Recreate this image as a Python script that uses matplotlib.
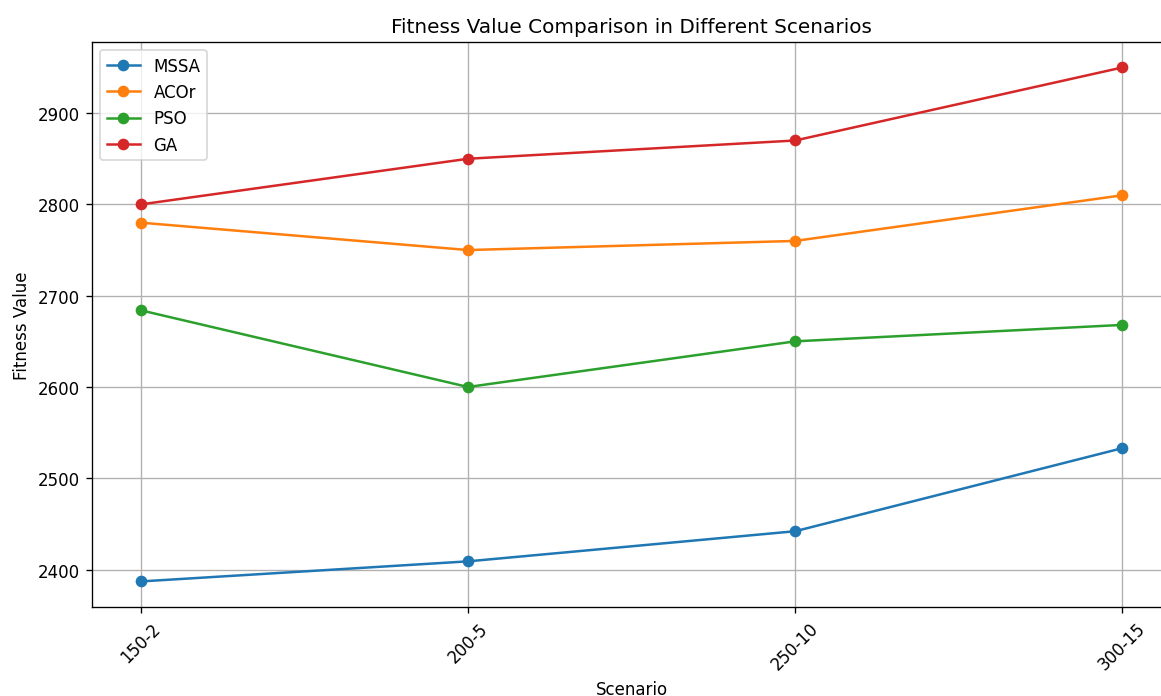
import matplotlib
matplotlib.use("Agg")
import matplotlib.pyplot as plt

# datos
scenarios = ["150-2", "200-5", "250-10", "300-15"]
mssa = [2387, 2409, 2442, 2533]
acor = [2780, 2750, 2760, 2810]
pso = [2684, 2600, 2650, 2668]
ga = [2800, 2850, 2870, 2950]

fig, ax = plt.subplots(figsize=(9.675, 5.808), dpi=120)
# el borde derecho del eje queda justo fuera de la imagen, como en el original
fig.subplots_adjust(left=0.079, right=1.009, top=0.9387, bottom=0.1275)

ax.plot(scenarios, mssa, marker="o", label="MSSA")
ax.plot(scenarios, acor, marker="o", label="ACOr")
ax.plot(scenarios, pso, marker="o", label="PSO")
ax.plot(scenarios, ga, marker="o", label="GA")

ax.set_title("Fitness Value Comparison in Different Scenarios")
ax.set_xlabel("Scenario")
ax.set_ylabel("Fitness Value")
ax.legend(loc="upper left")
ax.grid(True)
plt.xticks(rotation=45)

plt.savefig("out.png")
